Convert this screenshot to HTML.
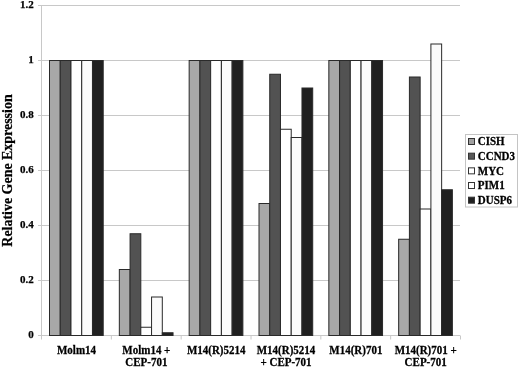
<!DOCTYPE html><html><head><meta charset="utf-8"><style>
html,body{margin:0;padding:0;background:#fff;width:520px;height:368px;overflow:hidden}
svg{display:block;will-change:transform}
text{font-family:"Liberation Serif",serif;font-weight:bold;fill:#000;stroke:#000;stroke-width:0.25px}
</style></head><body>
<svg width="520" height="368" viewBox="0 0 520 368">
<line x1="38" y1="335.50" x2="460.0" y2="335.50" stroke="#c8c8c8" stroke-width="1"/>
<line x1="38" y1="280.50" x2="460.0" y2="280.50" stroke="#c8c8c8" stroke-width="1"/>
<line x1="38" y1="225.50" x2="460.0" y2="225.50" stroke="#c8c8c8" stroke-width="1"/>
<line x1="38" y1="170.50" x2="460.0" y2="170.50" stroke="#c8c8c8" stroke-width="1"/>
<line x1="38" y1="115.50" x2="460.0" y2="115.50" stroke="#c8c8c8" stroke-width="1"/>
<line x1="38" y1="60.50" x2="460.0" y2="60.50" stroke="#c8c8c8" stroke-width="1"/>
<line x1="38" y1="5.50" x2="460.0" y2="5.50" stroke="#c8c8c8" stroke-width="1"/>
<line x1="41.5" y1="5.50" x2="41.5" y2="335.5" stroke="#c8c8c8" stroke-width="1"/>
<line x1="41.50" y1="335.5" x2="41.50" y2="339.5" stroke="#c8c8c8" stroke-width="1"/>
<line x1="111.33" y1="335.5" x2="111.33" y2="339.5" stroke="#c8c8c8" stroke-width="1"/>
<line x1="181.17" y1="335.5" x2="181.17" y2="339.5" stroke="#c8c8c8" stroke-width="1"/>
<line x1="251.00" y1="335.5" x2="251.00" y2="339.5" stroke="#c8c8c8" stroke-width="1"/>
<line x1="320.83" y1="335.5" x2="320.83" y2="339.5" stroke="#c8c8c8" stroke-width="1"/>
<line x1="390.67" y1="335.5" x2="390.67" y2="339.5" stroke="#c8c8c8" stroke-width="1"/>
<line x1="460.50" y1="335.5" x2="460.50" y2="339.5" stroke="#c8c8c8" stroke-width="1"/>
<line x1="41.0" y1="335.5" x2="460.0" y2="335.5" stroke="#c8c8c8" stroke-width="1"/>
<rect x="49.50" y="60.50" width="10.74" height="275.00" fill="#a8a8a8" stroke="#2a2a2a" stroke-width="1"/>
<rect x="60.24" y="60.50" width="10.74" height="275.00" fill="#525252" stroke="#2a2a2a" stroke-width="1"/>
<rect x="70.98" y="60.50" width="10.74" height="275.00" fill="#ffffff" stroke="#2a2a2a" stroke-width="1"/>
<rect x="81.73" y="60.50" width="10.74" height="275.00" fill="#fbfbfb" stroke="#2a2a2a" stroke-width="1"/>
<rect x="92.47" y="60.50" width="10.74" height="275.00" fill="#202020" stroke="#2a2a2a" stroke-width="1"/>
<rect x="119.33" y="269.50" width="10.74" height="66.00" fill="#a8a8a8" stroke="#2a2a2a" stroke-width="1"/>
<rect x="130.07" y="233.75" width="10.74" height="101.75" fill="#525252" stroke="#2a2a2a" stroke-width="1"/>
<rect x="140.82" y="327.25" width="10.74" height="8.25" fill="#ffffff" stroke="#2a2a2a" stroke-width="1"/>
<rect x="151.56" y="297.00" width="10.74" height="38.50" fill="#fbfbfb" stroke="#2a2a2a" stroke-width="1"/>
<rect x="162.31" y="332.75" width="10.74" height="2.75" fill="#202020" stroke="#2a2a2a" stroke-width="1"/>
<rect x="189.16" y="60.50" width="10.74" height="275.00" fill="#a8a8a8" stroke="#2a2a2a" stroke-width="1"/>
<rect x="199.91" y="60.50" width="10.74" height="275.00" fill="#525252" stroke="#2a2a2a" stroke-width="1"/>
<rect x="210.65" y="60.50" width="10.74" height="275.00" fill="#ffffff" stroke="#2a2a2a" stroke-width="1"/>
<rect x="221.40" y="60.50" width="10.74" height="275.00" fill="#fbfbfb" stroke="#2a2a2a" stroke-width="1"/>
<rect x="232.14" y="60.50" width="10.74" height="275.00" fill="#202020" stroke="#2a2a2a" stroke-width="1"/>
<rect x="259.00" y="203.50" width="10.74" height="132.00" fill="#a8a8a8" stroke="#2a2a2a" stroke-width="1"/>
<rect x="269.74" y="74.25" width="10.74" height="261.25" fill="#525252" stroke="#2a2a2a" stroke-width="1"/>
<rect x="280.48" y="129.25" width="10.74" height="206.25" fill="#ffffff" stroke="#2a2a2a" stroke-width="1"/>
<rect x="291.23" y="137.50" width="10.74" height="198.00" fill="#fbfbfb" stroke="#2a2a2a" stroke-width="1"/>
<rect x="301.97" y="88.00" width="10.74" height="247.50" fill="#202020" stroke="#2a2a2a" stroke-width="1"/>
<rect x="328.83" y="60.50" width="10.74" height="275.00" fill="#a8a8a8" stroke="#2a2a2a" stroke-width="1"/>
<rect x="339.57" y="60.50" width="10.74" height="275.00" fill="#525252" stroke="#2a2a2a" stroke-width="1"/>
<rect x="350.32" y="60.50" width="10.74" height="275.00" fill="#ffffff" stroke="#2a2a2a" stroke-width="1"/>
<rect x="361.06" y="60.50" width="10.74" height="275.00" fill="#fbfbfb" stroke="#2a2a2a" stroke-width="1"/>
<rect x="371.81" y="60.50" width="10.74" height="275.00" fill="#202020" stroke="#2a2a2a" stroke-width="1"/>
<rect x="398.66" y="239.25" width="10.74" height="96.25" fill="#a8a8a8" stroke="#2a2a2a" stroke-width="1"/>
<rect x="409.41" y="77.00" width="10.74" height="258.50" fill="#525252" stroke="#2a2a2a" stroke-width="1"/>
<rect x="420.15" y="209.00" width="10.74" height="126.50" fill="#ffffff" stroke="#2a2a2a" stroke-width="1"/>
<rect x="430.90" y="44.00" width="10.74" height="291.50" fill="#fbfbfb" stroke="#2a2a2a" stroke-width="1"/>
<rect x="441.64" y="189.75" width="10.74" height="145.75" fill="#202020" stroke="#2a2a2a" stroke-width="1"/>
<text x="33.8" y="338.40" font-size="11" text-anchor="end">0</text>
<text x="33.8" y="283.40" font-size="11" text-anchor="end">0.2</text>
<text x="33.8" y="228.40" font-size="11" text-anchor="end">0.4</text>
<text x="33.8" y="173.40" font-size="11" text-anchor="end">0.6</text>
<text x="33.8" y="118.40" font-size="11" text-anchor="end">0.8</text>
<text x="33.8" y="63.40" font-size="11" text-anchor="end">1</text>
<text x="33.8" y="8.40" font-size="11" text-anchor="end">1.2</text>
<text transform="translate(76.52,353.60) scale(1,1.05)" font-size="11" text-anchor="middle">Molm14</text>
<text transform="translate(146.35,353.60) scale(1,1.05)" font-size="11" text-anchor="middle">Molm14 +</text>
<text transform="translate(146.35,365.80) scale(1,1.05)" font-size="11" text-anchor="middle">CEP-701</text>
<text transform="translate(216.18,353.60) scale(1,1.05)" font-size="11" text-anchor="middle">M14(R)5214</text>
<text transform="translate(286.02,353.60) scale(1,1.05)" font-size="11" text-anchor="middle">M14(R)5214</text>
<text transform="translate(286.02,365.80) scale(1,1.05)" font-size="11" text-anchor="middle">+ CEP-701</text>
<text transform="translate(355.85,353.60) scale(1,1.05)" font-size="11" text-anchor="middle">M14(R)701</text>
<text transform="translate(425.68,353.60) scale(1,1.05)" font-size="11" text-anchor="middle">M14(R)701 +</text>
<text transform="translate(425.68,365.80) scale(1,1.05)" font-size="11" text-anchor="middle">CEP-701</text>
<text transform="translate(11.7,170.5) rotate(-90)" font-size="13.95" text-anchor="middle">Relative Gene Expression</text>
<rect x="465.5" y="134.5" width="52" height="72.5" fill="#fff" stroke="#c4c4c4" stroke-width="1"/>
<rect x="468.5" y="138.50" width="6" height="6" fill="#a0a0a0" stroke="#333" stroke-width="1"/>
<text transform="translate(477.8,145.30) scale(1,1.05)" font-size="11">CISH</text>
<rect x="468.5" y="153.17" width="6" height="6" fill="#585858" stroke="#333" stroke-width="1"/>
<text transform="translate(477.8,159.97) scale(1,1.05)" font-size="11">CCND3</text>
<rect x="468.5" y="167.84" width="6" height="6" fill="#ffffff" stroke="#333" stroke-width="1"/>
<text transform="translate(477.8,174.64) scale(1,1.05)" font-size="11">MYC</text>
<rect x="468.5" y="182.51" width="6" height="6" fill="#ffffff" stroke="#333" stroke-width="1"/>
<text transform="translate(477.8,189.31) scale(1,1.05)" font-size="11">PIM1</text>
<rect x="468.5" y="197.18" width="6" height="6" fill="#202020" stroke="#333" stroke-width="1"/>
<text transform="translate(477.8,203.98) scale(1,1.05)" font-size="11">DUSP6</text>
</svg></body></html>
